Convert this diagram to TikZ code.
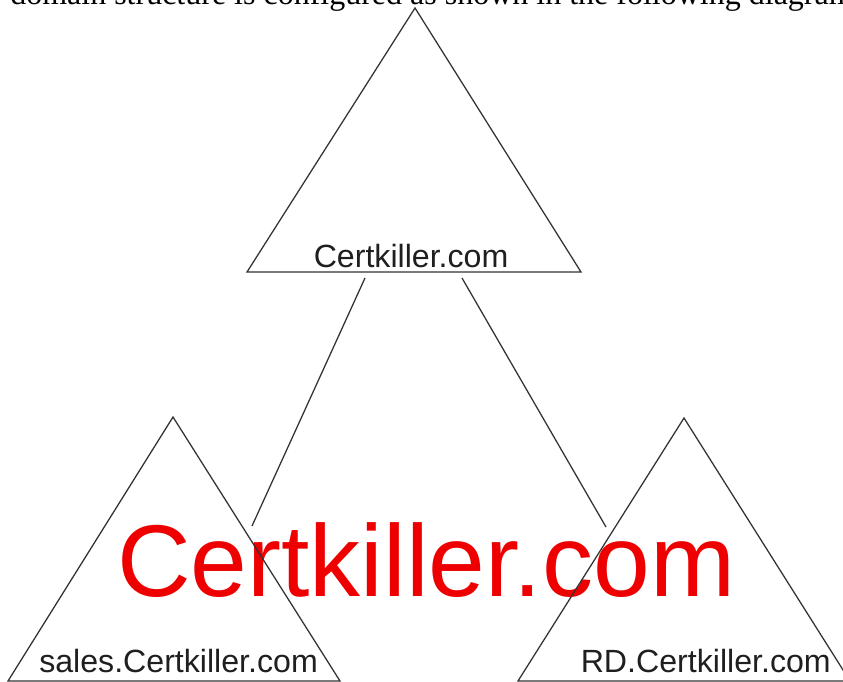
\documentclass[tikz,border=0pt]{standalone}
\usepackage{fontspec}
\setmainfont{Liberation Serif}
\newfontfamily\arialfont{Liberation Sans}
\begin{document}
\begin{tikzpicture}[x=0.75pt,y=-0.75pt,
  edge/.style={draw=black!80,line width=0.95pt,line join=miter},
  domlabel/.style={inner sep=0pt,anchor=base west,text=black!88,font=\arialfont\fontsize{24.1pt}{27pt}\selectfont},
  wmtext/.style={inner sep=0pt,anchor=base west,text={rgb,255:red,238;green,0;blue,0},font=\arialfont\fontsize{76.5pt}{80pt}\selectfont},
  captext/.style={inner sep=0pt,anchor=base west,text=black,font=\fontsize{24pt}{28pt}\selectfont}]
\useasboundingbox (0,0) rectangle (843,682);
\fill[white] (0,0) rectangle (843,682);
\begin{scope}
\clip (0,0) rectangle (843,682);
\node[captext] (cap) at (10,4) {domain structure is configured as shown in the following diagram};
\end{scope}
% watermark text (under the lines)
\node[wmtext] (wm) at (117,596) {Certkiller.com};
% triangle vertices
\coordinate (rA) at (415,8);
\coordinate (rL) at (247,272);
\coordinate (rR) at (581,272);
\coordinate (sA) at (173,417);
\coordinate (sL) at (8,681);
\coordinate (sR) at (340,681);
\coordinate (dA) at (684,418);
\coordinate (dL) at (518,681);
\coordinate (dR) at (850,681);
\draw[edge] (rA) -- (rL) -- (rR) -- cycle;
\draw[edge] (sA) -- (sL) -- (sR) -- cycle;
\draw[edge] (dA) -- (dL) -- (dR) -- cycle;
% connectors
\coordinate (c1a) at (365,278);
\coordinate (c1b) at (252,526);
\coordinate (c2a) at (462,278);
\coordinate (c2b) at (606,527);
\draw[edge] (c1a) -- (c1b);
\draw[edge] (c2a) -- (c2b);
% labels
\node[domlabel] (root) at (313.5,267) {Certkiller.com};
\node[domlabel] (sales) at (39,672) {sales.Certkiller.com};
\node[domlabel] (rd) at (580.5,672) {RD.Certkiller.com};
\end{tikzpicture}
\end{document}
